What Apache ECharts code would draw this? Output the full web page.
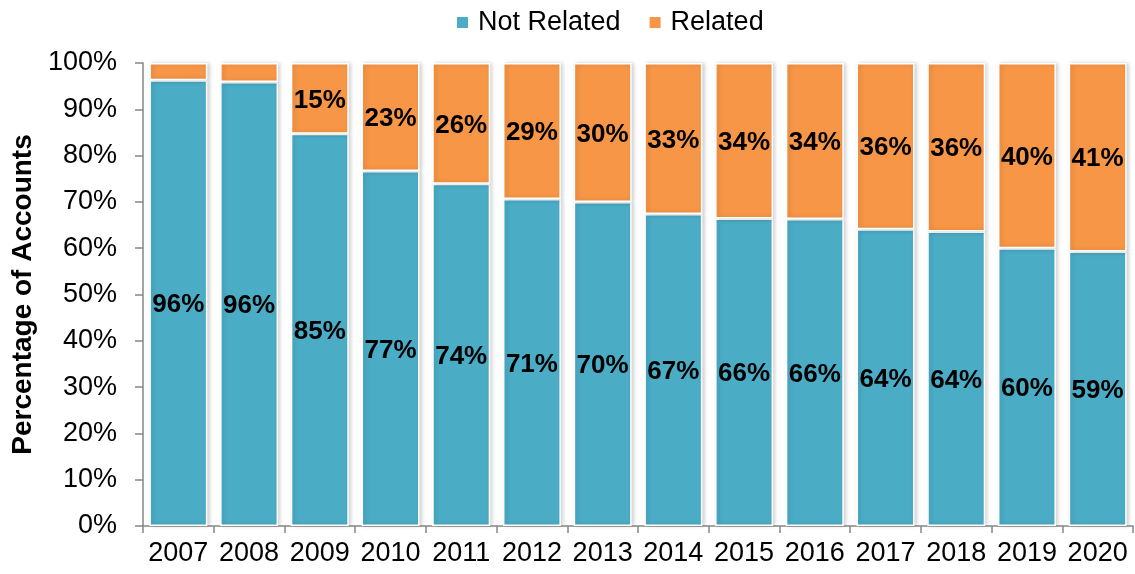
<!DOCTYPE html>
<html>
<head>
<meta charset="utf-8">
<script src="https://cdn.jsdelivr.net/npm/echarts@6/dist/echarts.min.js"></script>
<style>
html,body{margin:0;padding:0;background:#fff;}
#main{width:1135px;height:574px;}
</style>
</head>
<body>
<div id="main"></div>
<script>
var years = ['2007','2008','2009','2010','2011','2012','2013','2014','2015','2016','2017','2018','2019','2020'];
var notRelated = [96.3, 95.9, 84.7, 76.7, 73.9, 70.6, 70.0, 67.4, 66.4, 66.3, 64.1, 63.6, 60.0, 59.3];
var related = [3.7, 4.1, 15.3, 23.3, 26.1, 29.4, 30.0, 32.6, 33.6, 33.7, 35.9, 36.4, 40.0, 40.7];
var yTicks = ['0%','10%','20%','30%','40%','50%','60%','70%','80%','90%','100%'];

var chart = echarts.init(document.getElementById('main'));
var font = 'Liberation Sans, Arial, sans-serif';
function lbl(p){ return p.value < 10 ? '' : Math.round(p.value) + '%'; }
var itemStyleBase = {borderColor:'#fff', borderWidth:1.5, shadowColor:'rgba(0,0,0,0.18)', shadowBlur:4, shadowOffsetX:2};
chart.setOption({
  animation:false,
  legend:{
    top:4, left:450, itemWidth:13, itemHeight:13, itemGap:27,
    icon:'rect',
    textStyle:{fontFamily:font, fontSize:27, color:'#000', padding:[0,0,0,4]},
    data:['Not Related','Related']
  },
  grid:{left:143, right:2, top:63, bottom:48},
  xAxis:{
    type:'category', data:years,
    axisLine:{lineStyle:{color:'#868686', width:1.5}},
    axisTick:{show:true, alignWithLabel:false, interval:0, length:7, lineStyle:{color:'#868686', width:1.5}},
    axisLabel:{fontFamily:font, fontSize:27, color:'#000', margin:14, interval:0}
  },
  yAxis:{
    type:'value', min:0, max:100, interval:10,
    name:'Percentage of Accounts', nameLocation:'middle', nameGap:104,
    nameTextStyle:{fontFamily:font, fontSize:28, fontWeight:'bold', color:'#000'},
    axisLine:{show:true, lineStyle:{color:'#868686', width:1.5}},
    axisTick:{show:true, length:8, lineStyle:{color:'#868686', width:1.5}},
    splitLine:{show:false},
    axisLabel:{fontFamily:font, fontSize:27, color:'#000', margin:26,
      formatter:function(v){ return yTicks[Math.round(v/10)]; }}
  },
  series:[
    {name:'Not Related', type:'bar', stack:'a', data:notRelated, barCategoryGap:'18%',
     itemStyle:Object.assign({color:'#4BACC6'}, itemStyleBase),
     label:{show:true, position:'inside', offset:[0,2], formatter:lbl, fontFamily:font, fontSize:26, fontWeight:'bold', color:'#000'}},
    {name:'Related', type:'bar', stack:'a', data:related, barCategoryGap:'18%',
     itemStyle:Object.assign({color:'#F79646'}, itemStyleBase),
     label:{show:true, position:'inside', offset:[0,2], formatter:lbl, fontFamily:font, fontSize:26, fontWeight:'bold', color:'#000'}}
  ]
});
</script>
</body>
</html>
